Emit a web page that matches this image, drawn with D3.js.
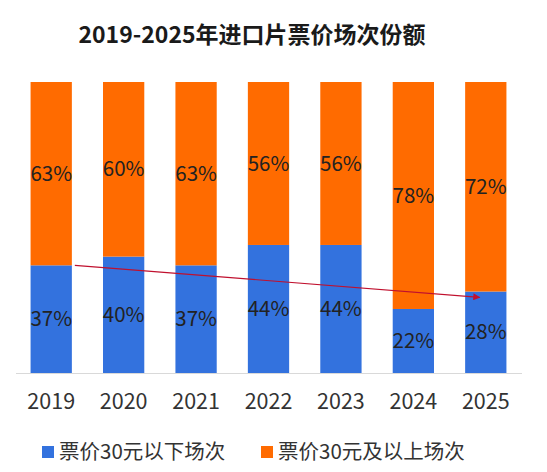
<!DOCTYPE html>
<html>
<head>
<meta charset="utf-8">
<script src="https://cdn.jsdelivr.net/npm/d3@7/dist/d3.min.js"></script>
<style>
  body { margin: 0; background: #fff; }
  text { font-family: "Noto Sans CJK SC", "Noto Sans", sans-serif; }
</style>
</head>
<body>
<script>
// chart data
var years = ["2019", "2020", "2021", "2022", "2023", "2024", "2025"];
var below30 = [37, 40, 37, 44, 44, 22, 28];   // 票价30元以下场次
var above30 = [63, 60, 63, 56, 56, 78, 72];   // 票价30元及以上场次
var seriesNames = ["票价30元以下场次", "票价30元及以上场次"];
var titleText = "2019-2025年进口片票价场次份额";
// trend arrow, from / to in data terms
var arrowFrom = { year: "2019", value: 37 };
var arrowTo = { year: "2025", value: 26 };

var svgWidth = 547, svgHeight = 472;
var colors = ["#3372DE", "#FF6B00"];

var svg = d3.select("body").append("svg")
            .attr("width", svgWidth)
            .attr("height", svgHeight);

var x = d3.scaleBand()
          .domain(years)
          .range([15, 522])
          .paddingInner(0.43)
          .paddingOuter(0.215);

var y = d3.scaleLinear()
          .domain([0, 100])
          .range([373, 82]);

// title
svg.append("text")
   .attr("x", 252)
   .attr("y", 43)
   .attr("text-anchor", "middle")
   .style("font-size", "23px")
   .style("font-weight", "bold")
   .attr("fill", "#1a1a1a")
   .text(titleText);

// stack the two series
var rows = years.map(function(d, i) { return { year: d, below: below30[i], above: above30[i] }; });
var stack = d3.stack().keys(["below", "above"]);
var layers = stack(rows);

var layer = svg.selectAll("g.layer")
               .data(layers)
               .enter()
               .append("g")
               .attr("class", "layer")
               .attr("fill", function(d, i) { return colors[i]; });

layer.selectAll("rect")
     .data(function(d) { return d; })
     .enter()
     .append("rect")
     .attr("x", function(d) { return x(d.data.year); })
     .attr("y", function(d) { return y(d[1]); })
     .attr("width", x.bandwidth())
     .attr("height", function(d) { return y(d[0]) - y(d[1]); });

// value labels in the middle of each segment
layer.selectAll("text")
     .data(function(d) { return d; })
     .enter()
     .append("text")
     .attr("x", function(d) { return x(d.data.year) + x.bandwidth() / 2; })
     .attr("y", function(d) { return (y(d[0]) + y(d[1])) / 2; })
     .attr("dy", "0.35em")
     .attr("text-anchor", "middle")
     .attr("fill", "#222")
     .style("font-size", "20.5px")
     .text(function(d) { return (d[1] - d[0]) + "%"; });

// x axis
var xAxis = svg.append("g")
               .attr("transform", "translate(0," + y(0) + ")")
               .call(d3.axisBottom(x).tickSize(0).tickPadding(21));
xAxis.select(".domain").attr("stroke", "#d9d9d9").attr("d", "M16,0.5H522");
xAxis.selectAll("text")
     .style("font-size", "21.5px")
     .style("font-family", "\"Noto Sans CJK SC\", sans-serif")
     .attr("fill", "#333");

// trend arrow
svg.append("defs").append("marker")
   .attr("id", "arrowhead")
   .attr("viewBox", "0 0 10 10")
   .attr("refX", 9)
   .attr("refY", 5)
   .attr("markerWidth", 8)
   .attr("markerHeight", 7)
   .attr("markerUnits", "userSpaceOnUse")
   .attr("orient", "auto")
   .append("path")
   .attr("d", "M0,0L10,5L0,10z")
   .attr("fill", "#C0102E");

svg.append("line")
   .attr("x1", x(arrowFrom.year) + x.bandwidth() + 3)
   .attr("y1", y(arrowFrom.value))
   .attr("x2", x(arrowTo.year) + x.bandwidth() * 0.35)
   .attr("y2", y(arrowTo.value))
   .attr("stroke", "#C0102E")
   .attr("stroke-width", 1.2)
   .attr("marker-end", "url(#arrowhead)");

// legend
var legendX = [42, 261];
var legend = svg.selectAll("g.legend")
                .data(seriesNames)
                .enter()
                .append("g")
                .attr("class", "legend")
                .attr("transform", function(d, i) { return "translate(" + legendX[i] + ",446)"; });
legend.append("rect")
      .attr("width", 12)
      .attr("height", 12)
      .attr("fill", function(d, i) { return colors[i]; });
legend.append("text")
      .attr("x", 17)
      .attr("y", 6)
      .attr("dy", "0.35em")
      .style("font-size", "20.5px")
      .attr("fill", "#333")
      .text(function(d) { return d; });
</script>
</body>
</html>
